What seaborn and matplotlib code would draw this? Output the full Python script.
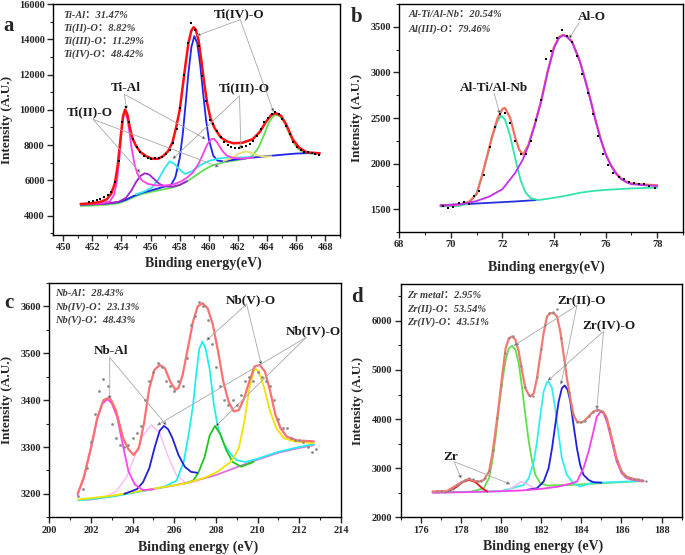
import matplotlib
matplotlib.use("Agg")
import matplotlib.pyplot as plt
from matplotlib.ticker import MultipleLocator
import seaborn as sns

# ---------------- panel a : Ti 2p ----------------
a_dots = [(451.8, 4760), (452.05, 4800), (452.3, 4870), (452.55, 4950), (452.8, 5040), (453.05, 5150),
          (453.3, 5350), (453.55, 5900), (453.8, 7100), (454.05, 9300), (454.3, 10150), (454.55, 9300),
          (454.8, 8350), (455.05, 7900), (455.3, 7600), (455.55, 7400), (455.8, 7250), (456.05, 7220),
          (456.3, 7250), (456.55, 7260), (456.8, 7350), (457.05, 7500), (457.3, 7700), (457.55, 8100),
          (457.8, 8900), (458.05, 10100), (458.3, 12000), (458.55, 13800), (458.8, 14920), (459.05, 14500),
          (459.3, 13600), (459.55, 11900), (459.8, 10500), (460.05, 9450), (460.3, 9200), (460.55, 8800),
          (460.8, 8450), (461.05, 8200), (461.3, 8000), (461.55, 7900), (461.8, 7850), (462.05, 7850),
          (462.3, 7880), (462.55, 7950), (462.8, 8050), (463.05, 8250), (463.3, 8500), (463.55, 8900),
          (463.8, 9300), (464.05, 9550), (464.3, 9750), (464.55, 9850), (464.8, 9750), (465.05, 9500),
          (465.3, 9100), (465.55, 8600), (465.8, 8200), (466.05, 7900), (466.3, 7700), (466.55, 7620),
          (466.8, 7580), (467.05, 7560), (467.3, 7520), (467.55, 7450)]
a_fit = [(451.2, 4660), (452.0, 4700), (452.6, 4790), (453.0, 4930), (453.3, 5250), (453.55, 5850),
         (453.75, 6900), (453.95, 8500), (454.1, 9600), (454.25, 10020), (454.4, 9750), (454.55, 9100),
         (454.75, 8400), (455.0, 7950), (455.3, 7600), (455.7, 7370), (456.1, 7230), (456.5, 7220),
         (456.85, 7370), (457.2, 7650), (457.5, 8150), (457.75, 9000), (458.0, 10000), (458.2, 11300),
         (458.4, 12600), (458.6, 13800), (458.8, 14500), (458.95, 14680), (459.1, 14550), (459.3, 13900),
         (459.5, 12700), (459.7, 11400), (459.9, 10300), (460.1, 9550), (460.4, 8950), (460.8, 8450),
         (461.2, 8220), (461.7, 8100), (462.3, 8130), (463.0, 8330), (463.5, 8750), (463.9, 9300),
         (464.3, 9720), (464.6, 9810), (464.95, 9660), (465.3, 9180), (465.75, 8330), (466.2, 7850),
         (466.7, 7590), (467.6, 7530)]
a_tial = [(451.2, 4640), (452.5, 4680), (453.2, 4800), (453.5, 5200), (453.7, 6000), (453.85, 7200),
          (454.0, 8700), (454.15, 9750), (454.25, 9880), (454.4, 9500), (454.55, 8700), (454.7, 7800),
          (454.9, 6900), (455.1, 6350), (455.4, 6000), (455.8, 5800), (456.3, 5720), (456.9, 5700),
          (457.5, 5760), (458.0, 5900), (458.5, 6150), (458.9, 6450), (459.3, 6950), (459.6, 7500),
          (459.9, 8050), (460.15, 8330), (460.35, 8360), (460.6, 8100), (460.9, 7700), (461.2, 7420),
          (461.6, 7280), (462.2, 7230), (463.0, 7290)]
a_ti2 = [(452.0, 4640), (453.0, 4690), (453.8, 4780), (454.3, 5000), (454.7, 5450), (455.0, 5900),
         (455.3, 6250), (455.6, 6400), (455.9, 6330), (456.2, 6100), (456.6, 5800), (457.0, 5650),
         (457.5, 5640), (458.0, 5740), (458.5, 5960)]
a_ti3 = [(455.0, 5200), (455.6, 5380), (456.1, 5600), (456.5, 6000), (456.9, 6600), (457.3, 7080),
         (457.6, 6950), (458.0, 6600), (458.35, 6370), (458.8, 6500), (459.4, 6850), (460.0, 7100),
         (460.6, 7230), (461.3, 7300), (462.0, 7290), (463.0, 7310)]
a_ti4 = [(451.2, 4620), (452.0, 4640), (453.0, 4690), (453.8, 4760), (454.3, 4900), (454.8, 5100),
         (455.4, 5290), (456.0, 5420), (456.6, 5560), (457.0, 5660), (457.4, 5740), (457.7, 6180),
         (458.0, 7270), (458.2, 8570), (458.4, 10310), (458.6, 12130), (458.8, 13560), (459.0, 14180),
         (459.2, 13780), (459.4, 12580), (459.6, 10980), (459.8, 9460), (460.0, 8310), (460.3, 7400),
         (460.6, 7115), (461.0, 7080), (462.0, 7200), (463.0, 7290), (464.0, 7370), (465.0, 7450),
         (466.0, 7520), (467.6, 7560)]
a_yel = [(461.0, 7090), (461.6, 7280), (462.1, 7530), (462.5, 7640), (462.9, 7570), (463.3, 7420),
         (463.8, 7340), (464.3, 7360)]
a_grn = [(451.2, 4550), (452.0, 4570), (453.0, 4620), (453.8, 4700), (454.3, 4840), (454.8, 5040),
         (455.4, 5230), (456.0, 5340), (456.6, 5440), (457.2, 5540), (457.8, 5660), (458.4, 5880),
         (459.0, 6220), (459.6, 6560), (460.2, 6830), (461.0, 7030), (462.0, 7150), (462.6, 7240),
         (463.0, 7400), (463.4, 7850), (463.8, 8600), (464.1, 9250), (464.4, 9620), (464.65, 9720),
         (464.9, 9620), (465.2, 9250), (465.5, 8700), (465.8, 8150), (466.1, 7800), (466.5, 7580),
         (467.0, 7520), (467.6, 7500)]
a_info = ["Ti-Al：31.47%", "Ti(II)-O：8.82%", "Ti(III)-O：11.29%", "Ti(IV)-O：48.42%"]

# ---------------- panel b : Al 2p ----------------
b_dots = [(69.7, 1530), (69.9, 1515), (70.1, 1525), (70.3, 1565), (70.5, 1575), (70.7, 1560), (70.9, 1640),
          (71.1, 1700), (71.3, 1880), (71.5, 2180), (71.7, 2400), (71.9, 2540), (72.1, 2560), (72.3, 2450),
          (72.5, 2250), (72.7, 2110), (72.9, 2100), (73.1, 2250), (73.3, 2480), (73.5, 2700), (73.7, 3150),
          (73.9, 3230), (74.1, 3380), (74.3, 3470), (74.5, 3400), (74.7, 3330), (74.9, 3180), (75.1, 2980),
          (75.3, 2770), (75.5, 2540), (75.7, 2300), (75.9, 2100), (76.1, 1990), (76.3, 1900), (76.5, 1850),
          (76.7, 1830), (76.9, 1800), (77.1, 1790), (77.3, 1780), (77.5, 1780), (77.7, 1750), (77.9, 1730)]
b_fit = [(69.6, 1540), (70.3, 1550), (70.7, 1580), (71.0, 1665), (71.2, 1860), (71.4, 2080), (71.6, 2300),
         (71.8, 2490), (72.0, 2600), (72.1, 2610), (72.3, 2500), (72.5, 2280), (72.65, 2150), (72.8, 2100),
         (73.0, 2200), (73.25, 2430), (73.5, 2690), (73.75, 3010), (74.0, 3280), (74.2, 3390), (74.35, 3412),
         (74.5, 3398), (74.7, 3338), (75.0, 3128), (75.2, 2928), (75.4, 2718), (75.6, 2488), (75.8, 2278),
         (76.0, 2108), (76.2, 1988), (76.4, 1898), (76.6, 1838), (76.8, 1803), (77.0, 1783), (77.5, 1770),
         (78.0, 1762)]
b_bg = [(69.6, 1545), (70.5, 1555), (71.5, 1570), (72.5, 1585), (73.3, 1600)]
b_alti = [(69.6, 1530), (70.3, 1535), (70.7, 1560), (71.0, 1680), (71.2, 1860), (71.4, 2060), (71.6, 2290),
          (71.8, 2460), (71.95, 2525), (72.1, 2480), (72.3, 2300), (72.5, 2050), (72.7, 1820), (72.9, 1680),
          (73.1, 1620), (73.4, 1600), (74.0, 1625), (74.5, 1650), (75.0, 1680), (75.5, 1700), (76.0, 1712),
          (77.0, 1728), (78.0, 1737)]
b_alo = [(69.6, 1536), (70.5, 1560), (71.0, 1590), (71.5, 1640), (72.0, 1720), (72.5, 1900), (72.8, 2050),
         (73.0, 2190), (73.25, 2420), (73.5, 2680), (73.75, 3000), (74.0, 3270), (74.2, 3380), (74.35, 3405),
         (74.5, 3390), (74.7, 3330), (75.0, 3120), (75.2, 2920), (75.4, 2710), (75.6, 2480), (75.8, 2270),
         (76.0, 2100), (76.2, 1980), (76.4, 1890), (76.6, 1830), (76.8, 1795), (77.0, 1775), (77.5, 1762),
         (78.0, 1755)]
b_info = ["Al-Ti/Al-Nb：20.54%", "Al(III)-O：79.46%"]

# ---------------- panel c : Nb 3d ----------------
c_dots = [(201.4, 3195), (201.6, 3210), (201.8, 3255), (202.0, 3310), (202.2, 3370), (202.4, 3420),
          (202.6, 3445), (202.8, 3430), (203.0, 3350), (203.2, 3320), (203.4, 3305), (203.6, 3300),
          (203.8, 3305), (204.0, 3320), (204.2, 3330), (204.4, 3345), (204.6, 3400), (204.8, 3440),
          (205.0, 3460), (205.2, 3480), (205.4, 3470), (205.6, 3440), (205.8, 3430), (206.0, 3420),
          (206.2, 3440), (206.4, 3430), (206.6, 3490), (206.8, 3560), (207.0, 3580), (207.2, 3610),
          (207.4, 3600), (207.6, 3570), (207.8, 3520), (208.0, 3470), (208.2, 3430), (208.4, 3400),
          (208.6, 3390), (208.8, 3400), (209.0, 3390), (209.2, 3410), (209.4, 3440), (209.6, 3450),
          (209.8, 3440), (210.0, 3460), (210.2, 3450), (210.4, 3440), (210.6, 3430), (210.8, 3400),
          (211.0, 3360), (211.2, 3340), (211.4, 3340), (211.6, 3320), (211.8, 3315), (212.0, 3315),
          (212.2, 3310), (212.4, 3300), (212.6, 3290), (212.8, 3295)]
c_fit = [(201.37, 3201), (201.65, 3234), (202.0, 3298), (202.3, 3362), (202.6, 3400), (202.9, 3406),
         (203.2, 3378), (203.55, 3318), (203.8, 3295), (204.05, 3283), (204.3, 3298), (204.55, 3352),
         (204.8, 3426), (205.05, 3465), (205.3, 3475), (205.55, 3468), (205.8, 3440), (206.05, 3422),
         (206.2, 3426), (206.4, 3454), (206.65, 3511), (206.9, 3568), (207.12, 3600), (207.35, 3607),
         (207.6, 3596), (207.85, 3561), (208.1, 3504), (208.35, 3440), (208.6, 3397), (208.85, 3376),
         (209.1, 3379), (209.35, 3404), (209.6, 3440), (209.85, 3472), (210.1, 3475), (210.35, 3461),
         (210.6, 3419), (210.85, 3369), (211.1, 3340), (211.4, 3322), (211.9, 3314), (212.7, 3312)]
c_bg = [(201.4, 3187), (202.0, 3188), (203.0, 3195), (204.0, 3203), (205.0, 3210), (206.0, 3218),
        (207.0, 3228), (208.0, 3240), (209.0, 3257), (210.0, 3273), (211.0, 3288), (212.0, 3298),
        (212.7, 3304)]
c_nbal = [(201.35, 3198), (201.65, 3234), (202.0, 3298), (202.3, 3360), (202.55, 3393), (202.8, 3402),
          (203.0, 3393), (203.25, 3365), (203.55, 3300), (203.8, 3248), (204.1, 3220), (204.5, 3208),
          (205.0, 3210)]
c_faint = [(202.6, 3192), (203.2, 3205), (203.7, 3235), (204.1, 3280), (204.5, 3325), (204.9, 3347),
           (205.3, 3330), (205.7, 3280), (206.1, 3240), (206.6, 3222), (207.2, 3228)]
c_blue = [(203.6, 3200), (204.2, 3210), (204.5, 3225), (204.8, 3255), (205.05, 3298), (205.3, 3335),
          (205.5, 3345), (205.7, 3338), (205.9, 3320), (206.2, 3283), (206.5, 3258), (206.8, 3247),
          (207.1, 3245)]
c_cyan = [(201.4, 3186), (203.0, 3194), (204.5, 3206), (205.5, 3215), (206.1, 3228), (206.45, 3268),
          (206.7, 3330), (206.9, 3390), (207.05, 3455), (207.2, 3510), (207.35, 3525), (207.5, 3510),
          (207.7, 3465), (207.9, 3390), (208.1, 3340), (208.4, 3305), (208.7, 3285), (209.0, 3272),
          (209.4, 3268), (210.0, 3275), (211.0, 3290), (212.0, 3300), (212.7, 3306)]
c_green = [(206.5, 3222), (206.9, 3228), (207.15, 3245), (207.45, 3278), (207.7, 3325), (207.95, 3345),
           (208.2, 3328), (208.5, 3293), (208.8, 3268), (209.2, 3258), (209.8, 3268)]
c_yel = [(201.4, 3188), (203.0, 3196), (205.0, 3211), (206.5, 3222), (207.5, 3235), (208.1, 3248),
         (208.75, 3270), (209.1, 3298), (209.35, 3352), (209.6, 3425), (209.85, 3468), (210.05, 3462),
         (210.3, 3428), (210.6, 3376), (210.9, 3340), (211.25, 3319), (211.75, 3312), (212.7, 3308)]
c_info = ["Nb-Al：28.43%", "Nb(IV)-O：23.13%", "Nb(V)-O：48.43%"]

# ---------------- panel d : Zr 3d ----------------
d_dots = [(176.8, 2530), (177.0, 2540), (177.2, 2520), (177.4, 2545), (177.6, 2580), (177.8, 2650),
          (178.0, 2720), (178.2, 2760), (178.4, 2790), (178.6, 2770), (178.8, 2740), (179.0, 2740),
          (179.2, 2800), (179.4, 2950), (179.6, 3380), (179.8, 4020), (180.0, 4700), (180.2, 5350),
          (180.4, 5650), (180.6, 5700), (180.8, 5520), (181.0, 5080), (181.2, 4650), (181.4, 4480),
          (181.6, 4470), (181.8, 4850), (182.0, 5420), (182.2, 5920), (182.4, 6150), (182.6, 6180),
          (182.8, 6250), (183.0, 5650), (183.2, 5100), (183.4, 4550), (183.6, 4100), (183.8, 3950),
          (184.0, 3940), (184.2, 3960), (184.4, 4060), (184.6, 4140), (184.8, 4180), (185.0, 4170),
          (185.2, 4060), (185.4, 3820), (185.6, 3480), (185.8, 3150), (186.0, 2940), (186.2, 2840),
          (186.4, 2800), (186.6, 2780), (186.8, 2770), (187.0, 2750), (187.2, 2730)]
d_fit = [(176.58, 2524), (177.32, 2537), (177.81, 2660), (178.15, 2741), (178.4, 2782), (178.65, 2741),
         (178.9, 2727), (179.14, 2761), (179.4, 2931), (179.56, 3270), (179.72, 3746), (179.89, 4289),
         (180.06, 4900), (180.23, 5443), (180.39, 5647), (180.55, 5681), (180.72, 5613), (180.88, 5375),
         (181.05, 4968), (181.21, 4628), (181.38, 4493), (181.46, 4459), (181.63, 4527), (181.79, 4832),
         (181.96, 5308), (182.12, 5749), (182.29, 6088), (182.45, 6156), (182.62, 6156), (182.79, 6088),
         (182.95, 5783), (183.12, 5308), (183.28, 4832), (183.45, 4425), (183.61, 4085), (183.78, 3949),
         (183.94, 3929), (184.11, 3949), (184.36, 4051), (184.6, 4153), (184.85, 4187), (185.1, 4140),
         (185.27, 4017), (185.52, 3610), (185.76, 3203), (186.01, 2931), (186.26, 2829), (186.59, 2782),
         (187.09, 2741)]
d_zr = [(177.32, 2524), (177.74, 2605), (178.07, 2714), (178.4, 2761), (178.73, 2714), (179.06, 2592),
        (179.31, 2524)]
d_faint = [(180.3, 2540), (180.7, 2640), (181.0, 2727), (181.3, 2680), (181.7, 2570)]
d_green = [(176.6, 2510), (178.5, 2520), (179.14, 2592), (179.4, 2796), (179.56, 3135), (179.72, 3610),
           (179.89, 4221), (180.06, 4764), (180.23, 5206), (180.39, 5443), (180.55, 5491), (180.72, 5409),
           (180.88, 5138), (181.05, 4628), (181.21, 4085), (181.38, 3542), (181.55, 3135), (181.71, 2863),
           (181.96, 2693), (182.3, 2646), (183.5, 2660), (187.1, 2740)]
d_cyan = [(176.6, 2505), (180.0, 2530), (181.13, 2660), (181.38, 2796), (181.63, 3135), (181.79, 3542),
          (181.96, 4085), (182.12, 4560), (182.29, 4751), (182.37, 4764), (182.54, 4628), (182.7, 4221),
          (182.87, 3678), (183.03, 3203), (183.28, 2863), (183.61, 2693), (183.94, 2625), (184.5, 2700),
          (187.1, 2740)]
d_blue = [(181.3, 2560), (181.79, 2592), (182.12, 2727), (182.37, 3000), (182.54, 3406), (182.7, 3881),
          (182.87, 4357), (183.03, 4628), (183.17, 4683), (183.32, 4594), (183.45, 4357), (183.61, 3881),
          (183.78, 3406), (183.94, 3067), (184.11, 2863), (184.36, 2761), (184.6, 2714), (185.0, 2705)]
d_zr4 = [(176.6, 2500), (178.0, 2510), (179.5, 2525), (181.0, 2545), (182.0, 2580), (182.8, 2620),
         (183.4, 2680), (183.78, 2727), (184.11, 3000), (184.36, 3338), (184.6, 3746), (184.77, 4051),
         (184.97, 4153), (185.1, 4120), (185.27, 3949), (185.52, 3542), (185.76, 3135), (186.01, 2897),
         (186.26, 2796), (186.59, 2761), (187.09, 2727)]
d_info = ["Zr metal：2.95%", "Zr(II)-O：53.54%", "Zr(IV)-O：43.51%"]

sns.set_theme(style="ticks")
plt.rcParams["font.family"] = ["Liberation Serif", "Noto Sans CJK SC"]
plt.rcParams["font.weight"] = "bold"
plt.rcParams["axes.labelweight"] = "bold"
plt.rcParams["axes.linewidth"] = 1.0

fig = plt.figure(figsize=(6.85, 5.55), dpi=100)


def px_axes(left, top, right, bottom):
    return fig.add_axes([left / 685, 1 - bottom / 555, (right - left) / 685, (bottom - top) / 555])


def curve(ax, pts, color, lw=1.3):
    sns.lineplot(x=[p[0] for p in pts], y=[p[1] for p in pts], ax=ax, color=color,
                 linewidth=lw, estimator=None, sort=False)


def dots(ax, pts, color, marker="s", s=3):
    sns.scatterplot(x=[p[0] for p in pts], y=[p[1] for p in pts], ax=ax, color=color,
                    marker=marker, s=s, linewidth=0, zorder=5)


def label(ax, text, xy, starts, ends):
    ax.text(xy[0], xy[1], text, ha="center", va="center", fontsize=9.5, color="#1a1a1a")
    for e in ends:
        ax.annotate("", xy=e, xytext=starts,
                    arrowprops=dict(arrowstyle="-|>", lw=0.6, ec="#a8a8a8", fc="black",
                                    mutation_scale=5, shrinkA=0, shrinkB=0))


def style(ax, xlim, ylim, xmaj, ymaj, xlab, lab_x, lab_y, ylab_x):
    ax.set_xlim(*xlim)
    ax.set_ylim(*ylim)
    ax.xaxis.set_major_locator(MultipleLocator(xmaj))
    ax.xaxis.set_minor_locator(MultipleLocator(xmaj / 2))
    ax.yaxis.set_major_locator(MultipleLocator(ymaj))
    ax.yaxis.set_minor_locator(MultipleLocator(ymaj / 2))
    ax.tick_params(which="major", direction="out", length=4, width=1, labelsize=7.5, pad=2)
    ax.tick_params(which="minor", direction="out", length=2.5, width=0.8)
    for lab in ax.get_xticklabels() + ax.get_yticklabels():
        lab.set_fontweight("bold")
    ax.set_xlabel(xlab, fontsize=10, fontweight="bold")
    ax.set_ylabel("Intensity (A.U.)", fontsize=9.5, fontweight="bold")
    ax.xaxis.set_label_coords(lab_x, lab_y)
    ax.yaxis.set_label_coords(ylab_x, 0.5)
    for sp in ax.spines.values():
        sp.set_visible(True)
        sp.set_color("black")


def info(ax, lines, x, ys):
    for t, y in zip(lines, ys):
        ax.text(x, y, t, transform=ax.transAxes, fontsize=7.5, style="italic",
                fontweight="bold", color="#3c3c3c", va="center", ha="left")


# ---- a ----
ax = px_axes(53, 4, 340, 235)
curve(ax, a_grn, "#5ee04f")
curve(ax, a_ti4, "#1f22f0")
curve(ax, a_ti3, "#2ee6f0")
curve(ax, a_ti2, "#a020d0")
curve(ax, a_yel, "#e6df6a")
curve(ax, a_tial, "#ff40e6")
curve(ax, a_fit, "#ff0f0f", lw=1.8)
dots(ax, a_dots, "black")
style(ax, (449.3, 469), (2900, 16000), 2, 2000, "Binding energy(eV)", 0.523, -0.091, -0.139)
info(ax, a_info, 0.035, [0.952, 0.896, 0.84, 0.784])
label(ax, "Ti(II)-O", (451.8, 9880), (452.05, 9460), [(455.3, 6420), (460.7, 6760)])
label(ax, "Ti-Al", (454.3, 11250), (454.2, 10880), [(454.35, 10000), (459.8, 8330)])
label(ax, "Ti(III)-O", (462.45, 11200), (462.1, 10790), [(457.5, 7200), (462.2, 7750)])
label(ax, "Ti(IV)-O", (462.1, 15430), (462.15, 15110), [(459.15, 14200), (464.45, 9860)])

# ---- b ----
ax = px_axes(399.3, 4, 683, 232)
curve(ax, b_bg, "#2230e0")
curve(ax, b_alti, "#33e3ac")
curve(ax, b_fit, "#f2705f", lw=1.6)
curve(ax, b_alo, "#c22ef0")
dots(ax, b_dots, "black")
style(ax, (68, 79), (1250, 3750), 2, 500, "Binding energy(eV)", 0.52, -0.125, -0.128)
info(ax, b_info, 0.031, [0.952, 0.89])
label(ax, "Al-O", (75.48, 3610), (74.97, 3544), [(74.58, 3369)])
label(ax, "Al-Ti/Al-Nb", (71.68, 2832), (71.68, 2770), [(71.9, 2540)])

# ---- c ----
ax = px_axes(49.3, 283, 341, 517.3)
curve(ax, c_bg, "#e070e0")
curve(ax, c_faint, "#ffb8f4", lw=1.0)
curve(ax, c_cyan, "#22eeee")
curve(ax, c_green, "#22c422")
curve(ax, c_yel, "#f2e200")
curve(ax, c_blue, "#2020d8")
curve(ax, c_nbal, "#ff45ef")
curve(ax, c_fit, "#ff7070", lw=1.6)
dots(ax, c_dots, "#8a8a8a", marker="o", s=4)
style(ax, (200, 214), (3150, 3650), 2, 100, "Binding energy (eV)", 0.51, -0.097, -0.124)
info(ax, c_info, 0.02, [0.957, 0.898, 0.842])
label(ax, "Nb-Al", (202.98, 3505), (202.9, 3491), [(202.9, 3401), (205.63, 3346)])
label(ax, "Nb(V)-O", (209.68, 3614), (209.47, 3605), [(207.53, 3527), (210.18, 3475)])
label(ax, "Nb(IV)-O", (212.66, 3548), (212.33, 3534), [(205.16, 3346), (207.98, 3344)])

# ---- d ----
ax = px_axes(400.7, 284, 681.7, 517.3)
curve(ax, d_green, "#5fe04a")
curve(ax, d_cyan, "#33eef0")
curve(ax, d_faint, "#ffb0f0", lw=1.0)
curve(ax, d_blue, "#1e20e0")
curve(ax, d_zr4, "#f542e8")
curve(ax, d_zr, "#e8141c")
curve(ax, d_fit, "#f27a70", lw=1.6)
dots(ax, d_dots, "#8a8a8a", marker="o", s=3)
style(ax, (175, 189), (2000, 6750), 2, 1000, "Binding energy (eV)", 0.506, -0.097, -0.131)
info(ax, d_info, 0.021, [0.95, 0.893, 0.838])
label(ax, "Zr", (177.49, 3237), (177.66, 3134), [(178.02, 2782), (180.47, 2673)])
label(ax, "Zr(II)-O", (184.03, 6394), (183.78, 6312), [(180.63, 5491), (182.98, 4696)])
label(ax, "Zr(IV)-O", (185.35, 5898), (185.1, 5783), [(182.32, 4778), (184.77, 4187)])

for letter, (px, py) in zip("abcd", [(9, 26), (357, 17), (9, 303), (357, 297)]):
    fig.text(px / 685, 1 - py / 555, letter, fontsize=15, fontweight="bold", ha="center", va="center")

fig.savefig("out.png", dpi=100)
